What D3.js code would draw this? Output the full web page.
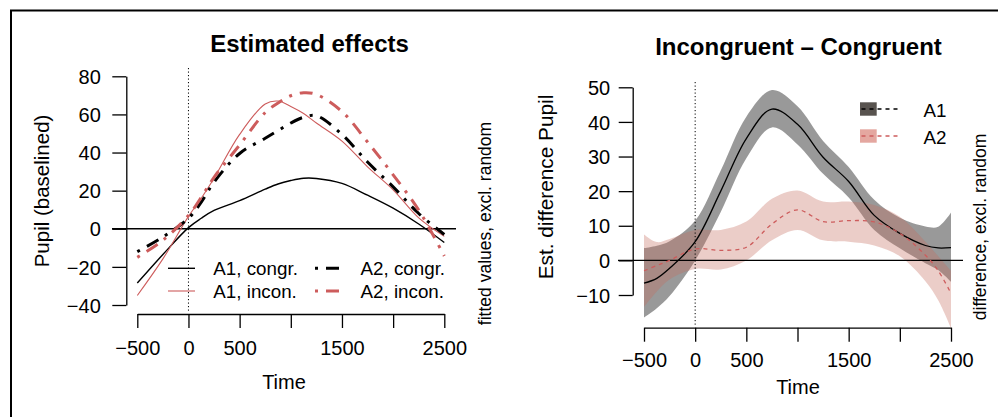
<!DOCTYPE html>
<html>
<head>
<meta charset="utf-8">
<script src="https://cdn.jsdelivr.net/npm/d3@7"></script>
<style>
  body { margin: 0; background: #fff; }
  svg { display: block; }
  text { font-family: "Liberation Sans", Arial, Helvetica, sans-serif; fill: #000; }
</style>
</head>
<body>
<svg id="chart" width="998" height="417"></svg>
<script>
// ---- Estimated effects (fitted values, excl. random) ----
const effectTime = [-500, -250, 0, 125, 250, 500, 750, 875, 1000, 1125, 1250, 1500, 1750, 2000, 2250, 2500];
const a1Congr = [-28.5, -13.5, 0.6, 5.5, 9.6, 14.8, 20.8, 23.5, 25.3, 26.5, 26.4, 23.8, 17.6, 10.8, 2.5, -7.2];
const a1Incon = [-35, -15.8, 6.5, 16, 26.5, 49.5, 65.5, 67, 64.2, 60.5, 55.5, 46, 32.5, 20.4, 5.7, -4];
const a2Congr = [-12, -4.3, 5.5, 14, 24.5, 39.5, 47.5, 51.5, 55.5, 58.5, 59.3, 49.5, 35, 22, 8, -3];
const a2Incon = [-15, -6, 7, 16.5, 27, 44, 61, 66, 69.8, 71.4, 70.5, 61.5, 45.5, 28.3, 9.8, -14.3];

// ---- Incongruent - Congruent difference with confidence bands ----
const diffTime = [-500, -375, -250, 0, 250, 500, 750, 1000, 1250, 1500, 1750, 2000, 2250, 2375, 2500];
const a1Diff   = [-6.6, -5.2, -2.3, 5.4, 20, 35.2, 43.7, 39.3, 29.8, 22.8, 13, 7.8, 4.3, 3.6, 3.7];
const a1DiffHi = [3.5, 4.2, 5.5, 11.5, 26, 41.5, 49.2, 44.5, 34.5, 27, 17.5, 12.3, 9.8, 9.7, 13.8];
const a1DiffLo = [-16.5, -13.8, -10.3, 0, 14, 29.5, 38.4, 33.5, 25, 18.2, 8.8, 3.5, -0.8, -2.8, -6.2];
const a2Diff   = [-3, -1.5, 0, 3.3, 2.9, 3.8, 10.5, 14.6, 11.2, 11.5, 11.1, 7.8, 1.5, -3, -9.5];
const a2DiffHi = [7.5, 5.3, 6.2, 8.8, 8.8, 11.2, 17.8, 20.2, 17, 17, 16, 12.6, 5.4, 1.2, -3];
const a2DiffLo = [-13.5, -9, -5.5, -2.5, -2.6, 0, 5.8, 8.8, 5.8, 5.4, 4.3, 1.2, -6, -11.5, -19.6];

// ---- axes ----
const timeTicks = [-500, 0, 500, 1000, 1500, 2000, 2500];
const timeTickLabels = ["\u2212500", "0", "500", "", "1500", "", "2500"];
const effectTicks = [-40, -20, 0, 20, 40, 60, 80];
const diffTicks = [-10, 0, 10, 20, 30, 40, 50];

const effectLegend = ["A1, congr.", "A1, incon.", "A2, congr.", "A2, incon."];
const diffLegend = ["A1", "A2"];

const RED = "#cd5c5c";
const svg = d3.select("#chart");
const smooth = d3.curveCatmullRom.alpha(0.5);

// frame around the figure
svg.append("rect").attr("x", 11).attr("y", 10.5).attr("width", 1000).attr("height", 420)
  .attr("fill", "none").attr("stroke", "#000").attr("stroke-width", 2);

function styleAxis(g) {
  g.select(".domain").attr("stroke", "#000").attr("stroke-width", 1.3);
  g.selectAll(".tick line").attr("stroke", "#000").attr("stroke-width", 1.3);
  g.selectAll(".tick text").attr("font-size", 20).attr("fill", "#000")
    .attr("font-family", "'Liberation Sans', Arial, sans-serif");
}

// ================= left panel =================
const xL = d3.scaleLinear().domain([-500, 2500]).range([137.3, 444.3]);
const yL = d3.scaleLinear().domain([-40, 80]).range([305, 76.3]);
const left = svg.append("g");

left.append("text").attr("x", 309.5).attr("y", 51.5).attr("text-anchor", "middle")
  .attr("font-size", 24).attr("font-weight", "bold").text("Estimated effects");

const ayL = left.append("g").attr("transform", "translate(126.3,0)")
  .call(d3.axisLeft(yL).tickValues(effectTicks).tickSize(14).tickSizeOuter(0).tickPadding(11.5));
styleAxis(ayL);
ayL.selectAll(".tick text").attr("dy", "0.36em");

const axL = left.append("g").attr("transform", "translate(0,314)")
  .call(d3.axisBottom(xL).tickValues(timeTicks).tickFormat((d, i) => timeTickLabels[i])
    .tickSize(14).tickSizeOuter(0));
styleAxis(axL);
axL.selectAll(".tick text").attr("y", 40.5).attr("dy", 0);

left.append("text").attr("x", 284).attr("y", 389.3).attr("text-anchor", "middle")
  .attr("font-size", 20).text("Time");
left.append("text").attr("transform", "translate(49,191) rotate(-90)").attr("text-anchor", "middle")
  .attr("font-size", 20.5).text("Pupil (baselined)");
left.append("text").attr("transform", "translate(490.5,223.5) rotate(-90)").attr("text-anchor", "middle")
  .attr("font-size", 17.5).text("fitted values, excl. random");

// reference lines
left.append("line").attr("x1", 112).attr("x2", 456).attr("y1", yL(0)).attr("y2", yL(0))
  .attr("stroke", "#000").attr("stroke-width", 1.3);
left.append("line").attr("x1", xL(0)).attr("x2", xL(0)).attr("y1", 68).attr("y2", 313)
  .attr("stroke", "#000").attr("stroke-width", 1).attr("stroke-dasharray", "1.2,2.3");

const lineL = d3.line().x((d, i) => xL(effectTime[i])).y(d => yL(d)).curve(smooth);
const DOTDASH = "3,8,13,8";
const effectSeries = [
  { values: a1Congr, color: "#000", width: 1.4, dash: null },
  { values: a1Incon, color: RED, width: 1.1, dash: null },
  { values: a2Congr, color: "#000", width: 3, dash: DOTDASH },
  { values: a2Incon, color: RED, width: 3, dash: DOTDASH }
];
effectSeries.forEach(s => {
  left.append("path").datum(s.values).attr("d", lineL).attr("fill", "none")
    .attr("stroke", s.color).attr("stroke-width", s.width)
    .attr("stroke-dasharray", s.dash);
});

// legend (two columns)
const legPos = [
  { lx: 168, tx: 213.3, y: 268.3 },
  { lx: 168, tx: 213.3, y: 291 },
  { lx: 315, tx: 360.5, y: 268.3 },
  { lx: 315, tx: 360.5, y: 291 }
];
effectSeries.forEach((s, i) => {
  const p = legPos[i];
  left.append("line").attr("x1", p.lx).attr("x2", p.lx + 27).attr("y1", p.y).attr("y2", p.y)
    .attr("stroke", s.color).attr("stroke-width", s.width).attr("stroke-dasharray", s.dash);
  left.append("text").attr("x", p.tx).attr("y", p.y + 7).attr("font-size", 18.8).text(effectLegend[i]);
});

// ================= right panel =================
const xR = d3.scaleLinear().domain([-500, 2500]).range([644, 951]);
const yR = d3.scaleLinear().domain([-10, 50]).range([295, 87.3]);
const right = svg.append("g");

right.append("text").attr("x", 798.5).attr("y", 54.5).attr("text-anchor", "middle")
  .attr("font-size", 24).attr("font-weight", "bold").text("Incongruent \u2013 Congruent");

const ayR = right.append("g").attr("transform", "translate(632.7,0)")
  .call(d3.axisLeft(yR).tickValues(diffTicks).tickSize(14).tickSizeOuter(0).tickPadding(8.5));
styleAxis(ayR);
ayR.selectAll(".tick text").attr("dy", "0.36em");

const axR = right.append("g").attr("transform", "translate(0,327.7)")
  .call(d3.axisBottom(xR).tickValues(timeTicks).tickFormat((d, i) => timeTickLabels[i])
    .tickSize(14).tickSizeOuter(0));
styleAxis(axR);
axR.selectAll(".tick text").attr("y", 39.3).attr("dy", 0);

right.append("text").attr("x", 798).attr("y", 394.3).attr("text-anchor", "middle")
  .attr("font-size", 20).text("Time");
right.append("text").attr("transform", "translate(553,187) rotate(-90)").attr("text-anchor", "middle")
  .attr("font-size", 20.8).text("Est. difference Pupil");
right.append("text").attr("transform", "translate(986,227) rotate(-90)").attr("text-anchor", "middle")
  .attr("font-size", 17.5).text("difference, excl. random");

// confidence bands
const bandR = (lo, hi) => d3.area().x((d, i) => xR(diffTime[i]))
  .y0((d, i) => yR(lo[i])).y1((d, i) => yR(hi[i])).curve(smooth);
right.append("path").datum(a1Diff).attr("d", bandR(a1DiffLo, a1DiffHi))
  .attr("fill", "#000").attr("fill-opacity", 0.4);
right.append("path").datum(a2Diff).attr("d", bandR(a2DiffLo, a2DiffHi))
  .attr("fill", "rgb(197,109,95)").attr("fill-opacity", 0.34);

// reference lines
right.append("line").attr("x1", 618).attr("x2", 963).attr("y1", yR(0)).attr("y2", yR(0))
  .attr("stroke", "#000").attr("stroke-width", 1.3);
right.append("line").attr("x1", xR(0)).attr("x2", xR(0)).attr("y1", 82).attr("y2", 325)
  .attr("stroke", "#000").attr("stroke-width", 1).attr("stroke-dasharray", "1.2,2.3");

const lineR = d3.line().x((d, i) => xR(diffTime[i])).y(d => yR(d)).curve(smooth);
right.append("path").datum(a1Diff).attr("d", lineR).attr("fill", "none")
  .attr("stroke", "#000").attr("stroke-width", 1.3);
right.append("path").datum(a2Diff).attr("d", lineR).attr("fill", "none")
  .attr("stroke", RED).attr("stroke-width", 1.3).attr("stroke-dasharray", "4,4");

// legend
const diffLegStyle = [
  { box: "#58534f", line: "#000", y: 109 },
  { box: "#e4a7a0", line: RED, y: 136 }
];
diffLegStyle.forEach((s, i) => {
  right.append("rect").attr("x", 860).attr("y", s.y - 6.7).attr("width", 16.7).attr("height", 13.4)
    .attr("fill", s.box);
  right.append("line").attr("x1", 861.5).attr("x2", 898).attr("y1", s.y).attr("y2", s.y)
    .attr("stroke", s.line).attr("stroke-width", 1.3).attr("stroke-dasharray", "4,4");
  right.append("text").attr("x", 923.5).attr("y", s.y + 7.5).attr("font-size", 18.8).text(diffLegend[i]);
});
</script>
</body>
</html>
